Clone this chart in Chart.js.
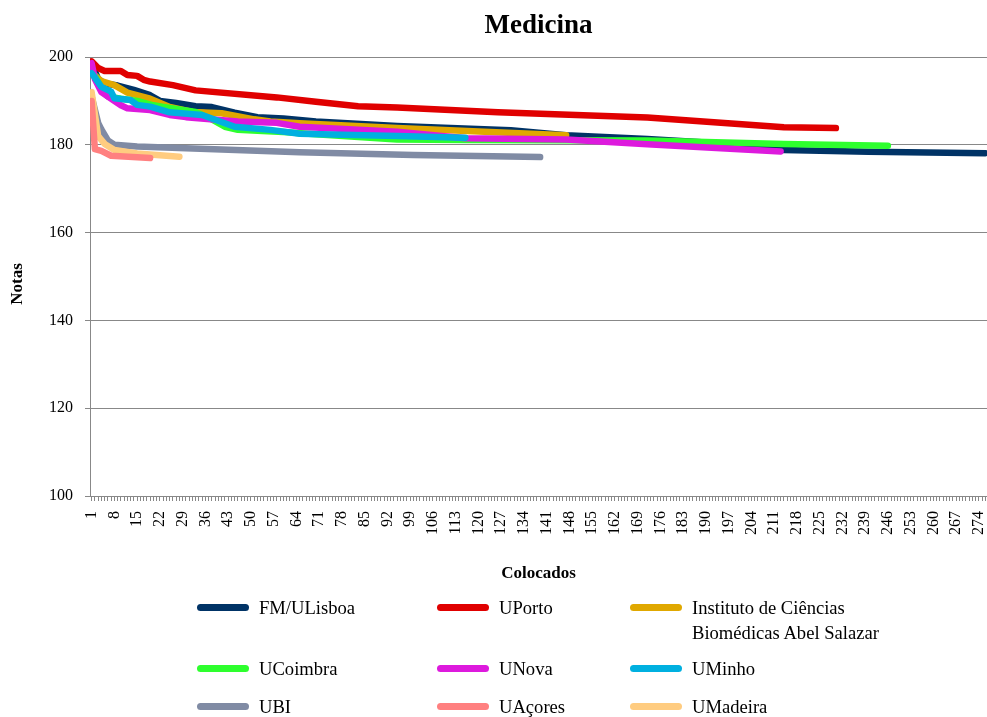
<!DOCTYPE html>
<html><head><meta charset="utf-8">
<script src="https://cdn.jsdelivr.net/npm/chart.js@4.4.1/dist/chart.umd.min.js"></script>
<style>
html,body{margin:0;padding:0;background:#fff;}
#wrap{position:relative;width:987px;height:717px;overflow:hidden;}
#c{position:absolute;left:0;top:0;}
#legend{position:absolute;left:0;top:0;width:987px;height:717px;font-family:"Liberation Serif","Times New Roman",serif;font-size:18.6px;color:#000;}
.sw{position:absolute;height:7px;width:52px;border-radius:3.5px;}
.tx{position:absolute;line-height:25px;white-space:nowrap;}
</style></head>
<body>
<div id="wrap">
<canvas id="c" width="987" height="590"></canvas>
<div id="legend"></div>
</div>
<script>
// ---- data (category index = "Colocados", value = "Notas") ----
const categoryCount = 276;
const tickEvery = 7;
const seriesNames = ["FM/ULisboa","UPorto","Instituto de Ciências\nBiomédicas Abel Salazar","UCoimbra","UNova","UMinho","UBI","UAçores","UMadeira"];
const seriesColors = ["#003366","#E00000","#E0A800","#2EFF2E","#DD1ADD","#00B0E0","#808BA4","#FF8080","#FFCC80"];

const fmULisboa = [[1,198.5],[3,195],[5,194],[9,193.5],[14,192.5],[19,191.3],[22,190],[27,189.5],[33,188.8],[38,188.6],[45,187.3],[52,186.3],[60,186],[70,185.3],[95,184.3],[130,183.3],[147,182.2],[172,181.3],[190,180.5],[214,178.8],[240,178.4],[276,178.1]];
const uPorto = [[1,199],[3,197.5],[5,196.8],[10,196.8],[12,195.9],[15,195.7],[17,194.8],[19,194.4],[26,193.6],[33,192.4],[58,190.8],[70,189.8],[83,188.8],[95,188.5],[126,187.4],[172,186.2],[214,184],[230,183.8]];
const icbas = [[1,196.5],[4,194.5],[8,193.6],[12,191.9],[19,190.5],[25,188.6],[32,187.5],[41,187.2],[51,185.8],[56,185.3],[65,184.9],[95,183.8],[147,182.2]];
const uCoimbra = [[1,197],[4,193],[6,191],[10,190.5],[15,190],[20,189],[25,188.4],[33,187.5],[38,185.8],[42,184.1],[46,183.4],[52,183.2],[60,182.9],[70,182.4],[95,181.2],[116,181.1],[172,181],[214,180.2],[246,179.8]];
const uNova = [[1,198.6],[2,195],[4,192],[6,191],[10,189],[12,188.3],[19,187.9],[25,186.8],[30,186.3],[46,185.3],[58,185],[65,184.1],[95,183],[116,181.5],[147,181.2],[172,180.1],[213,178.5]];
const uMinho = [[1,196.3],[4,193.2],[7,192.1],[8,190.6],[13,190.2],[15,189.1],[19,188.7],[25,187.4],[35,186.8],[45,184.1],[56,183.4],[65,182.5],[95,182],[116,181.6]];
const ubi = [[1,191],[3,185],[4,183.5],[6,181],[8,180],[15,179.6],[30,179.2],[65,178.3],[100,177.7],[139,177.2]];
const uAcores = [[1,190],[2,179],[4,178.6],[7,177.5],[19,177]];
const uMadeira = [[1,192],[3,182],[5,180.2],[8,178.8],[15,178],[28,177.3]];
const seriesData = [fmULisboa,uPorto,icbas,uCoimbra,uNova,uMinho,ubi,uAcores,uMadeira];
const drawOrder = [9,8,7,6,5,4,3,1,2];

const yMin = 100, yMax = 200, yStep = 20;

// ---- chart ----
const F = "'Liberation Serif','Times New Roman',serif";
const tickValues = [];
for (let i = 1; i <= categoryCount; i++) tickValues.push(i);

const yTitlePlugin = {
  id: 'yTitle',
  afterDraw(chart) {
    const c = chart.ctx;
    c.save();
    c.translate(18, 284);
    c.rotate(-Math.PI / 2);
    c.font = "bold 17px " + F;
    c.fillStyle = '#000';
    c.textAlign = 'center';
    c.textBaseline = 'middle';
    c.fillText('Notas', 0, 0);
    c.restore();
  }
};

new Chart(document.getElementById('c').getContext('2d'), {
  type: 'line',
  data: {
    datasets: seriesData.map((d, i) => ({
      label: seriesNames[i].replace('\n',' '),
      data: d.map(p => ({x: p[0], y: p[1]})),
      borderColor: seriesColors[i],
      backgroundColor: seriesColors[i],
      order: drawOrder[i]
    }))
  },
  plugins: [yTitlePlugin],
  options: {
    responsive: false, animation: false, devicePixelRatio: 1,
    layout: {padding: 0},
    elements: {
      line: {borderWidth: 6.5, borderCapStyle: 'round', borderJoinStyle: 'round', tension: 0},
      point: {radius: 0, hoverRadius: 0}
    },
    plugins: {
      legend: {display: false},
      tooltip: {enabled: false},
      title: {display: true, fullSize: false, text: 'Medicina', color: '#000',
        font: {family: F, size: 27, weight: 'bold'}, padding: {top: 10, bottom: 14.6}}
    },
    scales: {
      x: {
        type: 'linear', min: 0.5, max: categoryCount + 0.5,
        afterBuildTicks: s => { s.ticks = tickValues.map(v => ({value: v})); },
        afterFit: s => { s.height = 94; s.paddingLeft = 0; s.paddingRight = 0; },
        ticks: {autoSkip: false, maxRotation: 90, minRotation: 90, padding: 10, color: '#000',
          font: {family: F, size: 16},
          callback: v => ((v - 1) % tickEvery === 0 ? String(v) : '')},
        grid: {drawOnChartArea: false, tickLength: 5, color: '#888'},
        border: {color: '#888'},
        title: {display: true, text: 'Colocados', color: '#000',
          font: {family: F, size: 17, weight: 'bold'}, padding: {top: 0, bottom: 6}}
      },
      y: {
        min: yMin, max: yMax,
        afterFit: s => { s.width = 90; s.paddingTop = 0; s.paddingBottom = 0; },
        ticks: {stepSize: yStep, padding: 12, color: '#000', font: {family: F, size: 16}},
        grid: {color: '#888', tickLength: 5},
        border: {color: '#888'},
        title: {display: false}
      }
    }
  }
});

// ---- legend ----
const colX = [197, 437, 630];
const rowY = [607, 668, 706];
const leg = document.getElementById('legend');
seriesNames.forEach((name, i) => {
  const cx = colX[i % 3], cy = rowY[Math.floor(i / 3)];
  const sw = document.createElement('div');
  sw.className = 'sw';
  sw.style.left = cx + 'px'; sw.style.top = (cy - 3.5) + 'px';
  sw.style.background = seriesColors[i];
  leg.appendChild(sw);
  const tx = document.createElement('div');
  tx.className = 'tx';
  tx.style.left = (cx + 62) + 'px'; tx.style.top = (cy - 12.5) + 'px';
  tx.innerHTML = name.split('\n').join('<br>');
  leg.appendChild(tx);
});
</script>
</body></html>
